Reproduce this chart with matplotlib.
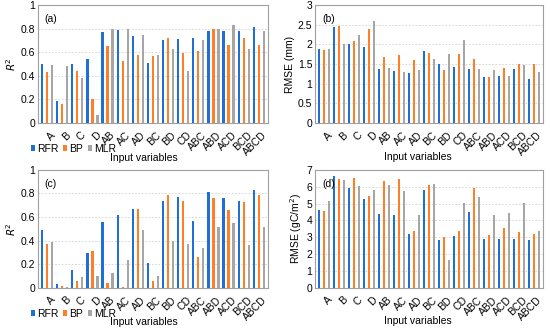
import matplotlib
matplotlib.use("Agg")
import matplotlib.pyplot as plt
import matplotlib.transforms as mtransforms
import numpy as np

categories = ["A", "B", "C", "D", "AB", "AC", "AD", "BC", "BD", "CD", "ABC", "ABD", "ACD", "BCD", "ABCD"]
series = ["RFR", "BP", "MLR"]

a_rfr = [0.50, 0.19, 0.50, 0.54, 0.77, 0.79, 0.74, 0.51, 0.70, 0.71, 0.72, 0.78, 0.78, 0.78, 0.81]
a_bp  = [0.43, 0.16, 0.44, 0.20, 0.65, 0.53, 0.58, 0.57, 0.72, 0.59, 0.61, 0.80, 0.66, 0.72, 0.66]
a_mlr = [0.49, 0.48, 0.38, 0.07, 0.80, 0.80, 0.75, 0.58, 0.63, 0.44, 0.70, 0.80, 0.83, 0.63, 0.78]

b_rfr = [1.87, 2.43, 2.02, 1.93, 1.38, 1.33, 1.28, 1.82, 1.49, 1.42, 1.38, 1.18, 1.19, 1.38, 1.13]
b_bp  = [1.86, 2.46, 2.08, 2.38, 1.69, 1.74, 1.61, 1.77, 1.35, 1.76, 1.62, 1.16, 1.41, 1.51, 1.49]
b_mlr = [1.88, 2.01, 2.23, 2.60, 1.41, 1.31, 1.34, 1.62, 1.75, 2.10, 1.37, 1.36, 1.20, 1.47, 1.29]

c_rfr = [0.49, 0.03, 0.15, 0.30, 0.56, 0.62, 0.67, 0.21, 0.74, 0.77, 0.57, 0.81, 0.76, 0.74, 0.83]
c_bp  = [0.37, 0.02, 0.06, 0.31, 0.04, 0.01, 0.67, 0.06, 0.79, 0.74, 0.26, 0.76, 0.66, 0.73, 0.79]
c_mlr = [0.39, 0.01, 0.09, 0.10, 0.13, 0.24, 0.49, 0.10, 0.40, 0.37, 0.34, 0.52, 0.55, 0.36, 0.52]

d_rfr = [4.60, 6.62, 5.93, 5.27, 4.40, 4.33, 3.20, 5.82, 2.85, 3.10, 4.48, 2.92, 2.88, 2.92, 2.85]
d_bp  = [4.57, 6.48, 6.50, 5.42, 6.33, 6.43, 3.35, 6.12, 3.02, 3.40, 5.90, 3.13, 3.53, 3.32, 3.20]
d_mlr = [5.15, 6.42, 6.02, 5.80, 6.10, 5.75, 4.33, 6.17, 1.65, 5.03, 5.40, 4.33, 4.45, 5.05, 3.38]

colors = ["#1f6fd8", "#ff7f27", "#a6a6a6"]

plt.rcParams['font.family'] = ['Liberation Sans', 'DejaVu Sans']

W, H = 550, 331
fig = plt.figure(figsize=(5.5, 3.31), dpi=100)

panels = [
    ("(a)", [a_rfr, a_bp, a_mlr], (0.069, 0.628, 0.418, 0.357), (0, 1), 0.2, r"$R^2$", (144, 158), (31, 149)),
    ("(b)", [b_rfr, b_bp, b_mlr], (0.573, 0.628, 0.414, 0.357), (0, 3), 0.5, "RMSE (mm)", (418, 157), None),
    ("(c)", [c_rfr, c_bp, c_mlr], (0.069, 0.130, 0.418, 0.357), (0, 1), 0.2, r"$R^2$", (144, 322), (31, 314)),
    ("(d)", [d_rfr, d_bp, d_mlr], (0.573, 0.130, 0.414, 0.357), (0, 7), 1, "RMSE (gC/m$^2$)", (418, 321), None),
]

x = np.arange(len(categories))
w = 0.15
offs = [-0.33, 0, 0.33]
fs = 7.5
shift = mtransforms.ScaledTranslation(3 / 100, 0, fig.dpi_scale_trans)
for label, data, pos, ylim, step, ylab, xl, lg in panels:
    ax = fig.add_axes(pos)
    handles = []
    for i, (vals, c) in enumerate(zip(data, colors)):
        h = ax.bar(x + offs[i], vals, width=w, color=c, label=series[i], zorder=3)
        handles.append(h)
    ax.set_xlim(-0.6, len(categories) - 0.4)
    ax.set_ylim(*ylim)
    ticks = np.arange(ylim[0], ylim[1] + step / 2, step)
    ax.set_yticks(ticks)
    ax.set_yticklabels([("%g" % t) for t in ticks], fontsize=fs)
    ax.yaxis.grid(True, linestyle=(0, (2, 2)), color="#d0d0d0", linewidth=0.6, zorder=0)
    ax.set_xticks(x)
    ax.set_xticklabels(categories, rotation=45, ha="right", rotation_mode="anchor", fontsize=fs)
    ax.tick_params(axis="y", length=0, pad=2)
    ax.tick_params(axis="x", length=0, pad=5)
    for t in ax.get_xticklabels():
        t.set_transform(t.get_transform() + shift)
    for s in ax.spines.values():
        s.set_color("#a0a0a0")
        s.set_linewidth(0.8)
    ax.set_ylabel(ylab, fontsize=fs, labelpad=2)
    ax.text(0.03, 0.88, label, transform=ax.transAxes, fontsize=fs, va="center", ha="left")
    fig.text(xl[0] / W, 1 - xl[1] / H, "Input variables", fontsize=fs, ha="center", va="center")
    if lg is not None:
        fig.legend(handles=handles, loc="center left", bbox_to_anchor=(lg[0] / W, 1 - lg[1] / H),
                   ncol=3, frameon=False, fontsize=fs, handlelength=0.4, handleheight=0.45,
                   handletextpad=0.2, columnspacing=0.45, borderaxespad=0, borderpad=0)

fig.savefig("out.png", dpi=100)
